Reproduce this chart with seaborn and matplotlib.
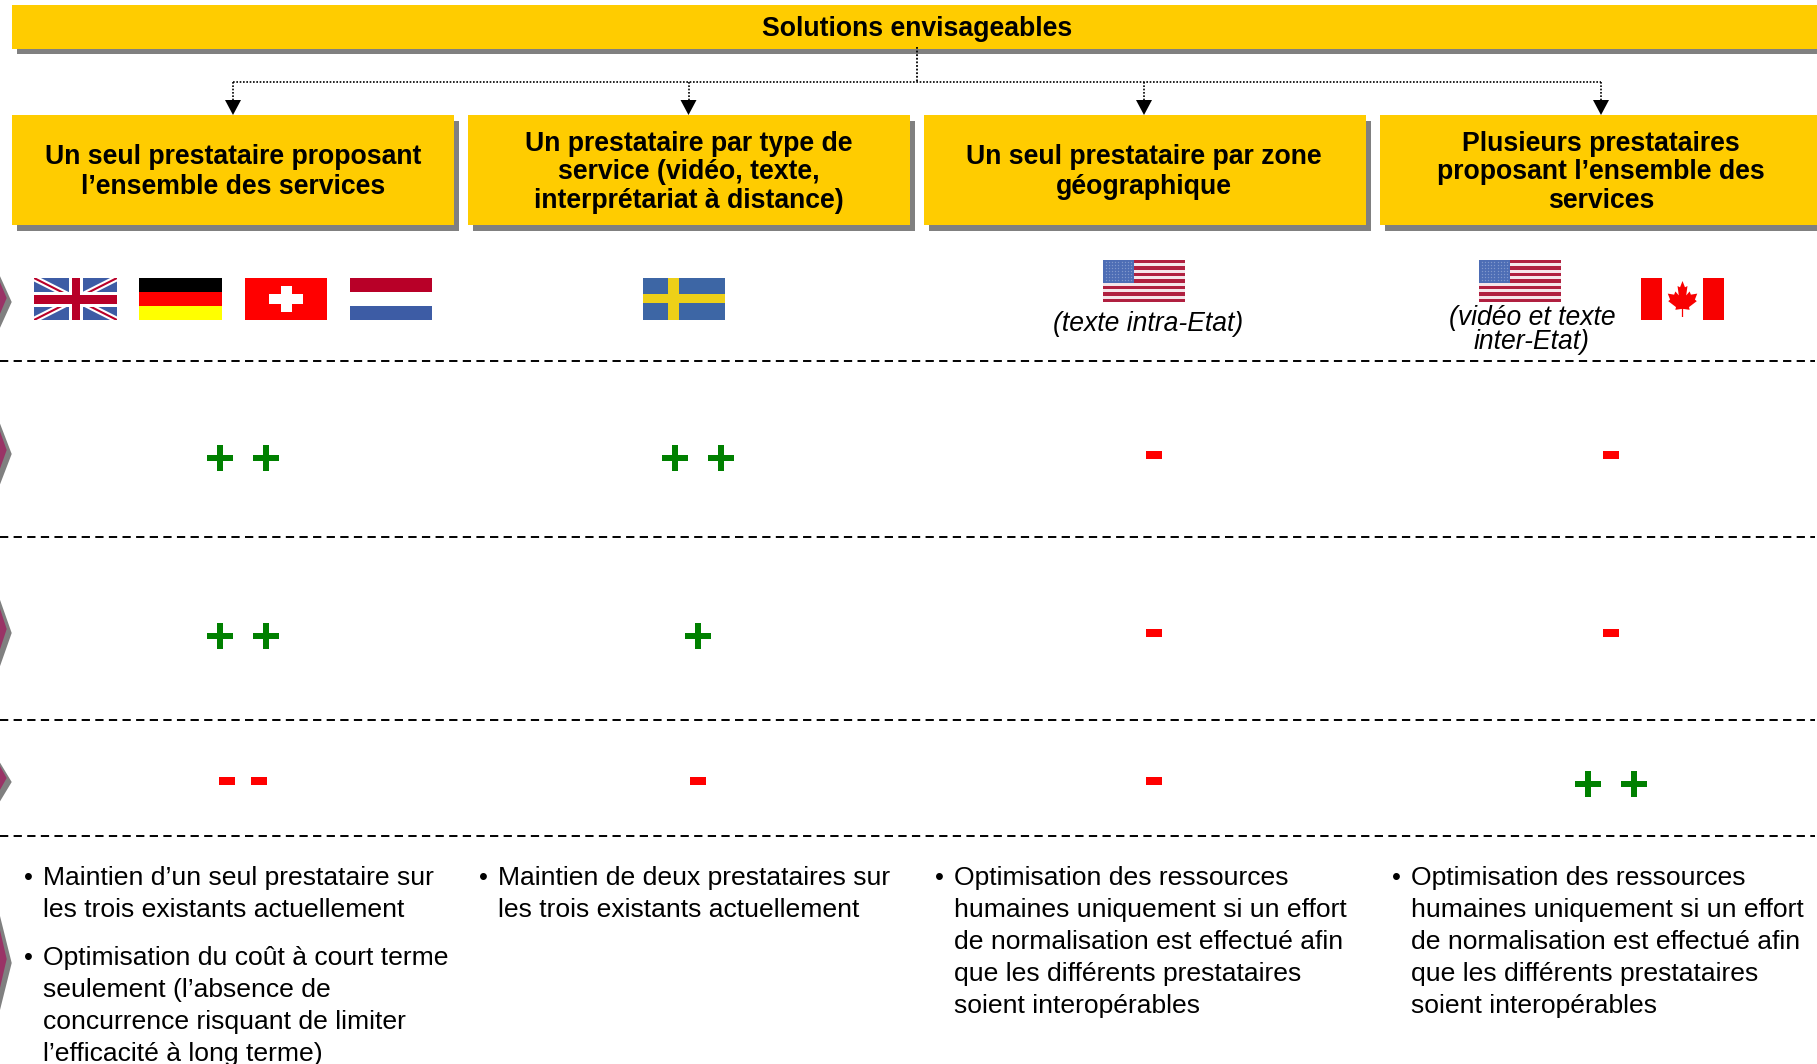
#!/usr/bin/env python3
# -*- coding: utf-8 -*-
"""Solutions envisageables: comparison table of four options"""
import matplotlib.pyplot as plt
import pandas as pd
import seaborn as sns
from matplotlib.patches import Polygon, Rectangle
from matplotlib.path import Path

header = "Solutions envisageables"
option_titles = [
    ["Un seul prestataire proposant", "l’ensemble des services"],
    ["Un prestataire par type de", "service (vidéo, texte,", "interprétariat à distance)"],
    ["Un seul prestataire par zone", "géographique"],
    ["Plusieurs prestataires", "proposant l’ensemble des", "services"],
]
# +2 = "+ +", +1 = "+", -1 = "-", -2 = "- -"
scores_row1 = [2, 2, -1, -1]
scores_row2 = [2, 1, -1, -1]
scores_row3 = [-2, -1, -1, 2]
bullets_col1 = [
    ["Maintien d’un seul prestataire sur", "les trois existants actuellement"],
    ["Optimisation du coût à court terme", "seulement (l’absence de",
     "concurrence risquant de limiter", "l’efficacité à long terme)"],
]
bullets_col2 = [["Maintien de deux prestataires sur", "les trois existants actuellement"]]
bullets_col3 = [["Optimisation des ressources", "humaines uniquement si un effort",
                 "de normalisation est effectué afin", "que les différents prestataires",
                 "soient interopérables"]]
bullets_col4 = bullets_col3

GOLD = "#FFCC00"
GREY = "#808080"
PLUM = "#993366"
GREEN = "#008000"
RED = "#FF0000"
FLAG_RED = "#B80028"
FLAG_BLUE = "#3D5CA5"

# layout, pixels of the 1817x1064 picture
box_left = [12, 468, 923.5, 1380]
box_width = 442
col_center = [233, 688.5, 1144, 1601]
mark_center = [243, 698, 1153.5, 1610.5]
row_y = [457.5, 636, 784]
sep_y = [361, 536.5, 720, 836]
bullet_x = [28, 483, 939, 1396]
line_h = 32

sns.set_theme(style="white")
plt.rcParams["font.family"] = ["Liberation Sans", "DejaVu Sans"]
plt.rcParams["text.color"] = "black"

fig = plt.figure(figsize=(18.17, 10.64), dpi=100)
ax = fig.add_axes([0, 0, 1, 1])
ax.set_xlim(0, 1817)
ax.set_ylim(1064, 0)
ax.axis("off")


def rect(x, y, w, h, color, z=2):
    ax.add_patch(Rectangle((x, y), w, h, facecolor=color, edgecolor="none", zorder=z))


def chevron(y, h):
    # only the tips of the left hand arrows are in the picture
    ax.add_patch(Polygon([(-1, y - h), (11.7, y), (-1, y + h)], facecolor=GREY, edgecolor="none"))
    ph = h * 0.65
    ax.add_patch(Polygon([(-1, y - ph - 4), (6.7, y - 4), (-1, y + ph - 4)], facecolor=PLUM, edgecolor="none", zorder=3))


def flag_uk(x, y, w=83, h=42):
    rect(x, y, w, h, FLAG_BLUE)
    clip = Rectangle((x, y), w, h, transform=ax.transData)
    for ends in ([x, x + w], [x + w, x]):
        line, = ax.plot(ends, [y, y + h], color="white", lw=4.5, solid_capstyle="butt", zorder=3)
        line.set_clip_path(clip)
        line, = ax.plot(ends, [y, y + h], color=FLAG_RED, lw=1.5, solid_capstyle="butt", zorder=3)
        line.set_clip_path(clip)
    rect(x + w / 2 - 7, y, 14, h, "white", 4)
    rect(x, y + h / 2 - 7.5, w, 15, "white", 4)
    rect(x + w / 2 - 4, y, 8, h, FLAG_RED, 5)
    rect(x, y + h / 2 - 4.5, w, 9, FLAG_RED, 5)


def flag_stripes(x, y, colors, w=83, h=42):
    for i, c in enumerate(colors):
        rect(x, y + i * h / len(colors), w, h / len(colors), c)


def flag_ch(x, y, w=82, h=42):
    rect(x, y, w, h, RED)
    rect(x + w / 2 - 17, y + h / 2 - 5, 34, 10, "white", 3)
    rect(x + w / 2 - 5.5, y + h / 2 - 13.5, 11, 26, "white", 3)


def flag_se(x, y, w=82, h=42):
    rect(x, y, w, h, "#3D66A5")
    rect(x + 0.31 * w, y, 0.125 * w, h, "#EDD018", 3)
    rect(x, y + 0.39 * h, w, 0.21 * h, "#EDD018", 3)


def flag_us(x, y, w=82, h=42):
    rect(x, y, w, h, "#F5E6EA")
    for i in range(0, 13, 2):
        rect(x, y + i * h / 13, w, h / 13, "#B02040", 3)
    rect(x, y, 0.38 * w, 0.54 * h, "#4D6DB5", 4)
    for i in range(7):
        ax.scatter([x + 2.5 + j * 3.2 for j in range(9)], [y + 1.8 + i * 3.1] * 9,
                   s=1, color="#8097CC", linewidths=0, zorder=5)


def flag_ca(x, y, w=83, h=42):
    rect(x, y, w, h, "white")
    rect(x, y, w / 4, h, "#F80000")
    rect(x + 3 * w / 4, y, w / 4, h, "#F80000")
    half = [(0, -1), (0.16, -0.65), (0.32, -0.72), (0.24, -0.2), (0.46, -0.42), (0.54, -0.24),
            (0.95, -0.3), (0.8, 0.03), (0.92, 0.12), (0.42, 0.45), (0.46, 0.6), (0.04, 0.55), (0.04, 1)]
    pts = half + [(-u, v) for u, v in reversed(half)]
    ax.add_patch(Polygon([(x + w / 2 + u * 15.5, y + 21 + v * 18) for u, v in pts],
                         facecolor="#F80000", edgecolor="none", zorder=3))


# header bar
rect(17, 49, 1810, 5, GREY)
rect(12, 5, 1810, 44, GOLD, 3)
ax.text(917, 29, header, ha="center", va="center", fontsize=19.2, fontweight="bold", zorder=5)

# dotted connectors and arrow heads
ax.plot([917, 917], [47, 81.5], color="black", lw=1.3, ls=(0, (1, 1)), zorder=6)
ax.plot([col_center[0], col_center[-1]], [81.5, 81.5], color="black", lw=1.2, ls=(0, (1, 1)))
for cx in col_center:
    ax.plot([cx, cx], [81.5, 100], color="black", lw=1.2, ls=(0, (1, 1)))
    ax.add_patch(Polygon([(cx - 8, 100), (cx + 8, 100), (cx, 115)], facecolor="black", edgecolor="none", zorder=6))

# option boxes
for left, cx, title in zip(box_left, col_center, option_titles):
    rect(left + 5, 121, box_width, 110, GREY)
    rect(left, 115, box_width, 110, GOLD, 3)
    step = 30 if len(title) == 2 else 28.5
    y0 = 172.3 - (len(title) - 1) * step / 2
    for i, line in enumerate(title):
        ax.text(cx, y0 + i * step, line, ha="center", va="center", fontsize=19.2, fontweight="bold", zorder=5)

# row arrows
for y, h in zip([302, 454, 633, 782, 963], [28, 33, 36, 21, 51]):
    chevron(y, h)

# flags
flag_uk(34, 278)
flag_stripes(139, 278, ["black", "#FF0000", "#FFFF00"])
flag_ch(245, 278)
flag_stripes(350, 278, [FLAG_RED, "white", FLAG_BLUE], w=82)
flag_se(643, 278)
flag_us(1103, 260)
flag_us(1479, 260)
flag_ca(1641, 278)
ax.text(1148, 324, "(texte intra-Etat)", ha="center", va="center", fontsize=19.1, style="italic")
ax.text(1532, 318, "(vidéo et texte", ha="center", va="center", fontsize=19.1, style="italic")
ax.text(1532, 342, "inter-Etat)", ha="center", va="center", fontsize=19.1, style="italic")

# separators
ax.hlines(sep_y, 0, 1815, color="black", lw=1.4, linestyles=[(0, (4.25, 2.75))])

# score marks
plus_rows, minus_rows = [], []
for y, scores in zip(row_y, [scores_row1, scores_row2, scores_row3]):
    for mx, score in zip(mark_center, scores):
        if score == 2:
            plus_rows += [(mx - 23, y), (mx + 23, y)]
        elif score == 1:
            plus_rows.append((mx, y))
        elif score == -1:
            minus_rows.append((mx, y - 3))
        else:
            minus_rows += [(mx - 16, y - 3), (mx + 16, y - 3)]
plus_df = pd.DataFrame(plus_rows, columns=["x", "y"])
minus_df = pd.DataFrame(minus_rows, columns=["x", "y"])

a = 0.26
plus_marker = Path([(-a, -1), (a, -1), (a, -a), (1, -a), (1, a), (a, a), (a, 1), (-a, 1),
                    (-a, a), (-1, a), (-1, -a), (-a, -a), (-a, -1)], closed=True)
minus_marker = Path([(-1, -0.53), (1, -0.53), (1, 0.53), (-1, 0.53), (-1, -0.53)], closed=True)
sns.scatterplot(data=plus_df, x="x", y="y", marker=plus_marker, s=350, color=GREEN, linewidth=0, ax=ax, legend=False)
sns.scatterplot(data=minus_df, x="x", y="y", marker=minus_marker, s=117, color=RED, linewidth=0, ax=ax, legend=False)
ax.set_xlim(0, 1817)
ax.set_ylim(1064, 0)

# bottom row text
for bx, blocks in zip(bullet_x, [bullets_col1, bullets_col2, bullets_col3, bullets_col4]):
    y = 878.3
    for block in blocks:
        ax.text(bx, y, "•", ha="center", va="center", fontsize=18.4)
        for line in block:
            ax.text(bx + 15, y, line, ha="left", va="center", fontsize=19.05)
            y += line_h
        y += 16

fig.savefig("out.png", dpi=100)
